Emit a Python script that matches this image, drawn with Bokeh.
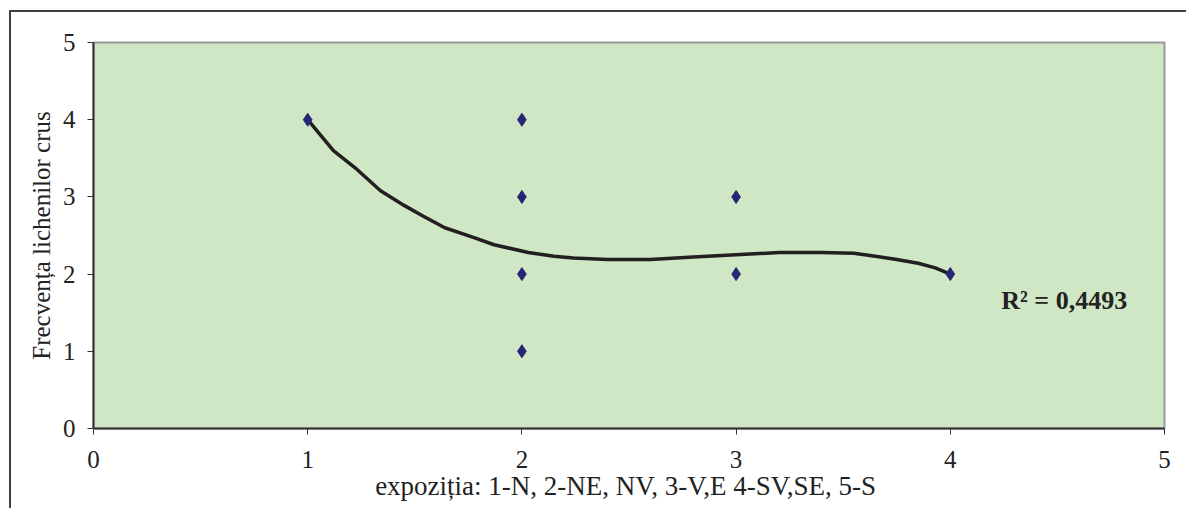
from bokeh.plotting import figure
from bokeh.models import Label, FixedTicker
from bokeh.embed import file_html
from bokeh.resources import INLINE

# Scatter data
expozitia = [1, 2, 2, 2, 2, 3, 3, 4]
frecventa = [4, 4, 3, 2, 1, 3, 2, 2]

# Trend line
trend_x = [1.0, 1.12, 1.22, 1.34, 1.45, 1.54, 1.64, 1.78, 1.87, 2.03, 2.15, 2.24,
           2.4, 2.6, 2.8, 3.0, 3.2, 3.4, 3.55, 3.65, 3.75, 3.85, 3.93, 4.0]
trend_y = [4.0, 3.60, 3.38, 3.08, 2.89, 2.75, 2.60, 2.47, 2.38, 2.28, 2.23, 2.21,
           2.19, 2.19, 2.22, 2.25, 2.28, 2.28, 2.27, 2.23, 2.19, 2.14, 2.08, 2.0]

ticks = [0, 1, 2, 3, 4, 5]
r2_text = "R\u00b2 = 0,4493"
x_title = "expoziția: 1-N, 2-NE, NV, 3-V,E  4-SV,SE, 5-S"
y_title = "Frecvența lichenilor crus"

FONT = "Liberation Serif"

p = figure(width=1177, height=498, x_range=(0, 5), y_range=(0, 5),
           output_backend="svg", toolbar_location=None,
           min_border_left=82, min_border_right=24, min_border_top=30,
           min_border_bottom=82)
p.styles = {"margin-left": "9px", "margin-top": "10px",
            "border-left": "2px solid #404040", "border-top": "2px solid #404040"}

p.background_fill_color = "#cfe7c5"
p.border_fill_color = "white"
p.outline_line_color = "#999999"
p.outline_line_width = 2
p.grid.visible = False

for ax in (p.xaxis[0], p.yaxis[0]):
    ax.ticker = FixedTicker(ticks=ticks)
    ax.minor_tick_line_color = None
    ax.major_tick_in = 0
    ax.major_tick_out = 6
    ax.axis_line_color = "#333333"
    ax.axis_line_width = 2
    ax.major_tick_line_color = "#333333"
    ax.major_tick_line_width = 1
    ax.major_label_text_font = FONT
    ax.major_label_text_font_size = "25px"
    ax.major_label_text_color = "#222222"
    ax.axis_label_text_font = FONT
    ax.axis_label_text_font_style = "normal"
    ax.axis_label_text_font_size = "25px"
    ax.axis_label_text_color = "#222222"

p.xaxis.axis_label = x_title
p.yaxis.axis_label = y_title
p.xaxis.axis_label_text_font_size = "27px"
p.xaxis.major_label_standoff = 16
p.xaxis.axis_label_standoff = 0
p.yaxis.major_label_standoff = 12
p.yaxis.axis_label_standoff = 5

p.line(trend_x, trend_y, line_color="#231f20", line_width=3.5, line_join="round")
p.scatter(expozitia, frecventa, marker="diamond", size=13,
          fill_color="#262676", line_color="#262676")

p.add_layout(Label(x=4.238, y=1.66, text=r2_text, text_font=FONT,
                   text_font_style="bold", text_font_size="26px",
                   text_color="#222222", text_baseline="middle"))

open("out.html", "w").write(file_html(p, INLINE))
